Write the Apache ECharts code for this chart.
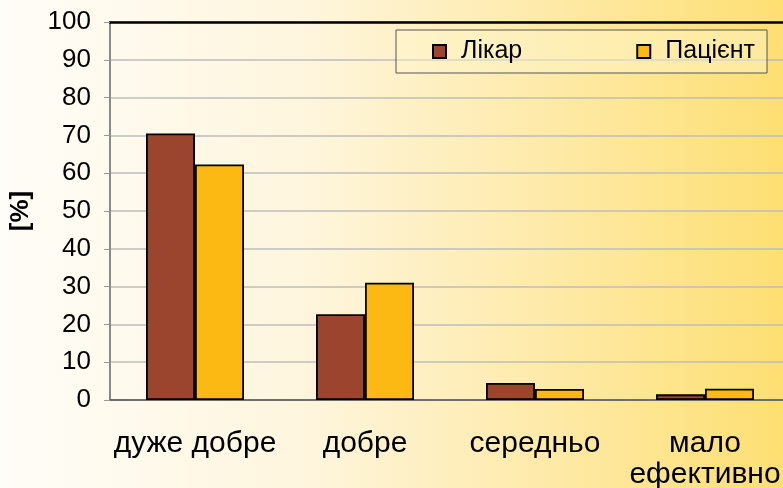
<!DOCTYPE html>
<html>
<head>
<meta charset="utf-8">
<script src="https://cdn.jsdelivr.net/npm/echarts@6/dist/echarts.min.js"></script>
<style>
html,body{margin:0;padding:0;}
#c{width:783px;height:488px;}
</style>
</head>
<body>
<div id="c"></div>
<script>
const categories = ['дуже добре', 'добре', 'середньо', 'мало\nефективно'];
const seriesNames = ['Лікар', 'Пацієнт'];
const likar = [70.5, 22.7, 4.5, 1.5];
const patsient = [62.3, 31.0, 2.9, 3.0];
const yTicks = {min: 0, max: 100, interval: 10};

const chart = echarts.init(document.getElementById('c'));
chart.setOption({
  animation: false,
  backgroundColor: {
    type: 'linear', x: 0, y: 0, x2: 1, y2: 0,
    colorStops: [
      {offset: 0, color: '#fffdf8'},
      {offset: 0.4, color: '#fef5dc'},
      {offset: 0.7, color: '#feeaa8'},
      {offset: 1, color: '#fddf72'}
    ]
  },
  textStyle: {fontFamily: 'Liberation Sans, Arial, sans-serif'},
  grid: {left: 110, top: 22, bottom: 88, right: -7, containLabel: false, outerBoundsMode: 'none'},
  legend: {
    data: seriesNames,
    left: 396, top: 30,
    width: 372,
    padding: [9, 12, 9, 36],
    itemWidth: 13, itemHeight: 13,
    itemGap: 114,
    icon: 'rect',
    backgroundColor: 'rgba(255,246,205,0.45)',
    borderColor: '#555',
    borderWidth: 1,
    textStyle: {fontSize: 25, color: '#000', padding: [0, 0, 0, 10], fontFamily: 'Liberation Sans, Arial, sans-serif'}
  },
  xAxis: [{
    type: 'category',
    data: categories,
    position: 'bottom',
    axisLine: {lineStyle: {color: '#6e6e6e', width: 2}},
    axisTick: {show: false},
    axisLabel: {fontSize: 30, color: '#000', margin: 28, lineHeight: 31, interval: 0}
  }, {
    type: 'category',
    data: categories,
    position: 'top',
    axisLine: {lineStyle: {color: '#000', width: 2.5}},
    axisTick: {show: false},
    axisLabel: {show: false}
  }],
  yAxis: {
    type: 'value',
    min: yTicks.min, max: yTicks.max, interval: yTicks.interval,
    name: '[%]',
    nameLocation: 'middle',
    nameRotate: 90,
    nameGap: 76,
    nameTextStyle: {fontSize: 26, fontWeight: 'bold', color: '#000'},
    axisLine: {show: true, lineStyle: {color: '#8a8a8a', width: 2}},
    axisTick: {show: true, length: 6, lineStyle: {color: '#999', width: 1}},
    axisLabel: {fontSize: 26, color: '#000', margin: 19},
    splitLine: {lineStyle: {color: '#bdbdbd', width: 1.5}}
  },
  series: [{
    name: seriesNames[0],
    type: 'bar',
    data: likar,
    barWidth: 49,
    barGap: '0%',
    itemStyle: {color: '#9c452e', borderColor: '#000', borderWidth: 1.8}
  }, {
    name: seriesNames[1],
    type: 'bar',
    data: patsient,
    barWidth: 49,
    barGap: '0%',
    itemStyle: {color: '#fdb913', borderColor: '#000', borderWidth: 1.8}
  }]
});
</script>
</body>
</html>
